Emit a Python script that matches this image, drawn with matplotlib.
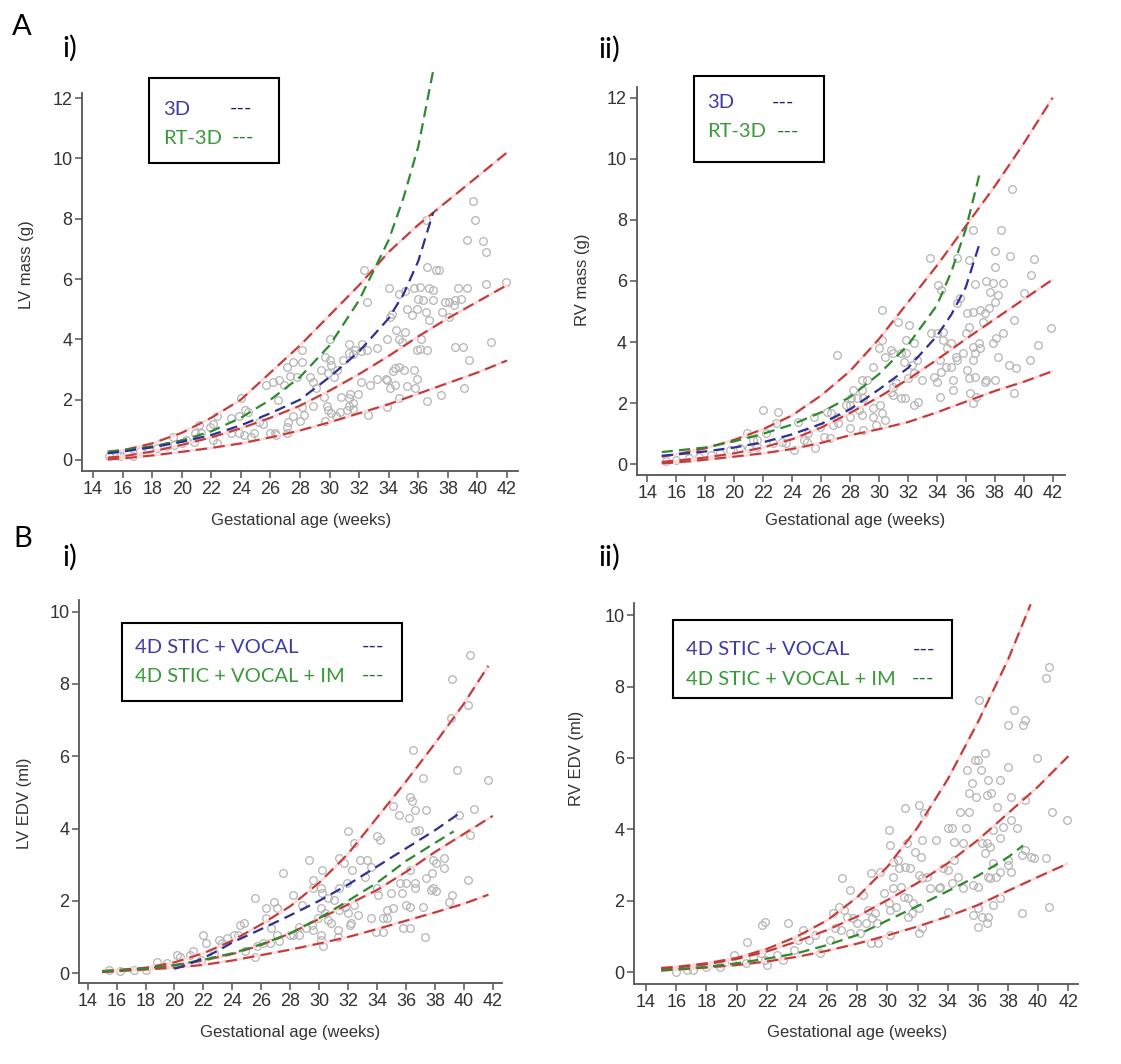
import matplotlib
matplotlib.use("Agg")
import matplotlib.pyplot as plt
from matplotlib.patches import Rectangle

# ---------------- data ----------------
weeks_even = [15, 16, 18, 20, 22, 24, 26, 28, 30, 32, 34, 36, 38, 40, 42]
x_ticks = [14, 16, 18, 20, 22, 24, 26, 28, 30, 32, 34, 36, 38, 40, 42]
yticks_mass = [0, 2, 4, 6, 8, 10, 12]
yticks_edv = [0, 2, 4, 6, 8, 10]

# A i) LV mass
ai_top = [0.25, 0.32, 0.55, 0.9, 1.4, 2.0, 2.9, 3.8, 4.8, 5.8, 6.9, 7.8, 8.6, 9.4, 10.2]
ai_mid = [0.08, 0.12, 0.28, 0.5, 0.75, 1.05, 1.4, 1.8, 2.3, 2.85, 3.45, 4.1, 4.7, 5.25, 5.8]
ai_low = [0.02, 0.05, 0.15, 0.27, 0.4, 0.55, 0.75, 0.98, 1.25, 1.55, 1.85, 2.2, 2.55, 2.9, 3.3]
ai_fit_weeks = [15, 16, 18, 20, 22, 24, 26, 28, 30, 32, 34, 35, 36, 37]
ai_3d = [0.22, 0.28, 0.42, 0.6, 0.83, 1.15, 1.55, 2.0, 2.75, 3.6, 4.7, 5.5, 6.6, 8.2]
ai_rt3d = [0.28, 0.33, 0.45, 0.65, 0.95, 1.4, 2.0, 2.75, 3.8, 5.3, 7.3, 8.7, 10.4, 12.9]
ai_pts = [(36.5, 7.96), (39.7, 8.6), (39.8, 7.95), (39.3, 7.3), (40.4, 7.25), (40.6, 6.9), (37.2, 6.3),
          (36.6, 6.4), (37.4, 6.3), (41.9, 5.9), (40.6, 5.85), (39.3, 5.7), (38.7, 5.7), (40.9, 3.9),
          (39.0, 3.75), (38.5, 3.75), (39.4, 3.3), (39.1, 2.4), (37.5, 2.15), (36.6, 1.95),
          (34.0, 5.7), (34.7, 5.5), (35.1, 5.6), (35.7, 5.7), (36.1, 5.75), (36.7, 5.7), (37.0, 5.65),
          (36.0, 5.35), (36.3, 5.3), (37.0, 5.3), (37.8, 5.25), (38.1, 5.25), (38.4, 5.15), (38.5, 5.3),
          (38.9, 5.35), (35.2, 5.0), (35.6, 4.8), (35.9, 5.0), (34.2, 4.85), (34.1, 4.75), (36.5, 4.9),
          (36.7, 4.65), (37.6, 4.9), (38.1, 4.75), (34.5, 4.3), (35.1, 4.25), (33.9, 4.0), (34.7, 4.0),
          (36.2, 4.0), (35.9, 3.65), (36.1, 3.67), (36.6, 3.65), (34.9, 3.9), (33.2, 3.7), (32.5, 3.65),
          (31.7, 3.65), (31.3, 3.55), (32.1, 3.6), (31.3, 3.85), (32.2, 3.85), (31.6, 3.5), (30.9, 3.3),
          (34.4, 3.05), (34.7, 3.1), (35.0, 3.0), (34.3, 2.95), (35.7, 3.0), (35.9, 2.7), (33.9, 2.65),
          (34.1, 2.4), (34.4, 2.5), (35.2, 2.45), (35.8, 2.4), (33.2, 2.7), (33.8, 2.7), (32.7, 2.5),
          (32.1, 2.6), (31.9, 2.2), (32.6, 1.5), (31.4, 2.2), (31.3, 2.05), (30.8, 2.1), (31.6, 1.9),
          (31.3, 1.8), (31.2, 1.65), (31.6, 1.7), (34.7, 2.05), (33.9, 1.75), (32.3, 6.3), (32.5, 5.25),
          (30.0, 4.0), (29.7, 3.4), (30.0, 3.3), (30.1, 3.15), (29.4, 3.0), (28.7, 2.75), (28.9, 2.6),
          (29.1, 2.4), (29.9, 2.9), (30.3, 2.75), (30.5, 3.0), (28.1, 3.65), (27.5, 3.25), (28.1, 3.25),
          (27.1, 3.1), (27.3, 2.8), (27.8, 2.75), (29.6, 2.1), (29.8, 1.8), (29.9, 1.65), (30.1, 1.55),
          (29.7, 1.3), (30.4, 1.45), (30.7, 1.6), (28.9, 1.8), (28.1, 1.75), (28.3, 1.5), (28.0, 1.3),
          (27.5, 1.45), (27.2, 1.25), (27.1, 1.1), (26.3, 0.9), (26.5, 2.0), (25.7, 2.5), (26.2, 2.6),
          (26.6, 2.65), (26.9, 2.5), (24.0, 2.05), (24.3, 1.65), (24.5, 1.6), (23.9, 1.45), (23.3, 1.38),
          (22.4, 1.45), (22.1, 1.2), (21.9, 1.1), (21.2, 1.15), (21.3, 0.9), (23.3, 0.9), (23.9, 0.9),
          (24.2, 0.83), (24.7, 0.77), (24.9, 0.9), (25.2, 1.27), (25.5, 1.2), (26.0, 0.9), (26.4, 0.83),
          (27.1, 0.88), (22.4, 0.55), (22.1, 0.66), (20.8, 0.6), (20.3, 0.66), (20.0, 0.55), (19.5, 0.5),
          (19.0, 0.45), (19.4, 0.77), (20.9, 0.9), (18.3, 0.4), (17.8, 0.35), (17.2, 0.3), (16.3, 0.25),
          (15.6, 0.18), (15.1, 0.12), (15.8, 0.12), (16.7, 0.12)]

# A ii) RV mass
aii_top = [0.25, 0.33, 0.52, 0.8, 1.15, 1.6, 2.25, 3.05, 4.1, 5.3, 6.5, 7.8, 9.1, 10.5, 12.0]
aii_mid = [0.08, 0.12, 0.22, 0.36, 0.55, 0.82, 1.2, 1.68, 2.2, 2.78, 3.42, 4.1, 4.75, 5.4, 6.05]
aii_low = [0.03, 0.06, 0.15, 0.25, 0.36, 0.5, 0.7, 0.95, 1.15, 1.38, 1.7, 2.05, 2.4, 2.7, 3.05]
aii_fit_weeks = [15, 16, 18, 20, 22, 24, 26, 28, 30, 32, 34, 35, 36, 37]
aii_3d = [0.28, 0.32, 0.42, 0.55, 0.72, 0.98, 1.32, 1.8, 2.45, 3.15, 4.2, 4.9, 5.8, 7.3]
aii_rt3d = [0.4, 0.45, 0.55, 0.75, 1.0, 1.3, 1.7, 2.2, 2.95, 3.9, 5.2, 6.3, 7.7, 9.6]
aii_pts = [(39.2, 9.0), (38.4, 7.67), (36.5, 7.67), (38.0, 6.99), (39.05, 6.82), (40.7, 6.71), (35.4, 6.76),
           (33.5, 6.76), (36.2, 6.69), (38.0, 6.47), (40.5, 6.19), (36.6, 5.9), (37.4, 6.0), (37.9, 5.92),
           (38.6, 5.92), (38.2, 5.54), (37.7, 5.65), (38.0, 5.32), (40.0, 5.6), (39.3, 4.72), (38.6, 4.29),
           (41.0, 3.9), (41.9, 4.45), (40.4, 3.41), (38.1, 4.12), (37.9, 3.96), (38.2, 3.52), (39.0, 3.25),
           (39.5, 3.14), (39.3, 2.32), (38.0, 2.76),
           (35.4, 5.27), (35.6, 5.43), (34.1, 5.87), (34.3, 5.7), (36.1, 4.94), (36.5, 5.0), (37.0, 5.05),
           (37.3, 4.94), (37.6, 5.1), (37.2, 4.67), (36.2, 4.5), (36.0, 4.29), (36.5, 3.85), (36.9, 3.96),
           (37.0, 3.8), (36.6, 3.63), (36.5, 3.41), (35.8, 3.63), (35.0, 3.96), (35.3, 3.52), (35.4, 3.41),
           (35.0, 3.2), (34.0, 4.29), (34.4, 4.34), (33.6, 4.29), (34.4, 4.07), (34.7, 3.8), (34.2, 3.41),
           (34.6, 3.2), (34.3, 3.03), (33.8, 2.87), (34.0, 2.7), (36.1, 3.09), (36.2, 2.81), (36.6, 2.87),
           (35.1, 2.76), (35.1, 2.43), (36.3, 2.32), (36.5, 2.0), (36.7, 2.21), (37.3, 2.7), (37.4, 2.76),
           (34.2, 2.21),
           (30.2, 5.05), (31.3, 4.67), (32.1, 4.56), (31.9, 4.07), (30.2, 4.07), (30.0, 3.8), (30.8, 3.74),
           (31.0, 3.63), (31.5, 3.63), (31.9, 3.63), (30.4, 3.52), (32.4, 3.96), (32.6, 3.41), (32.3, 3.25),
           (31.7, 3.36), (29.6, 3.2), (33.0, 2.76), (32.4, 2.98), (32.0, 2.81), (31.2, 2.65), (31.0, 2.54),
           (30.8, 2.38), (31.0, 2.27), (31.5, 2.16), (31.8, 2.16), (32.4, 1.94), (32.7, 2.05), (30.2, 1.67),
           (29.6, 1.83), (30.1, 1.94), (29.6, 1.56), (30.4, 1.45), (29.8, 1.29),
           (27.1, 3.58), (28.8, 2.76), (29.2, 2.76), (28.2, 2.43), (28.8, 2.43), (28.1, 2.16), (28.5, 2.16),
           (28.9, 2.16), (27.7, 1.94), (28.0, 1.94), (28.6, 1.78), (28.8, 1.61), (28.0, 1.56), (26.4, 1.72),
           (26.7, 1.67), (27.1, 1.56), (26.8, 1.29), (27.2, 1.34), (28.0, 1.18), (28.9, 1.12), (25.9, 1.23),
           (25.5, 1.56), (26.2, 0.9), (26.6, 0.85),
           (22.0, 1.78), (23.0, 1.72), (21.6, 0.8), (22.2, 1.01), (22.9, 1.34), (23.3, 0.74), (24.4, 1.4),
           (23.6, 0.69), (24.8, 0.8), (25.0, 0.74), (25.6, 0.52), (25.1, 1.01), (24.1, 0.47), (22.7, 0.69),
           (21.3, 0.8), (20.9, 1.01), (21.6, 0.58), (21.0, 0.52), (20.4, 0.52), (19.7, 0.47), (19.0, 0.36),
           (18.4, 0.31), (17.6, 0.25), (16.9, 0.2), (16.0, 0.14), (15.3, 0.11)]

# B i) LV EDV
bi_top_weeks = [15, 16, 18, 20, 22, 24, 26, 28, 30, 32, 34, 36, 38, 40, 41.7]
bi_top = [0.06, 0.09, 0.15, 0.3, 0.55, 0.9, 1.35, 1.85, 2.5, 3.3, 4.3, 5.3, 6.35, 7.45, 8.5]
bi_mid = [0.03, 0.05, 0.12, 0.22, 0.35, 0.53, 0.78, 1.1, 1.5, 1.9, 2.3, 2.8, 3.35, 3.85, 4.35]
bi_low = [0.04, 0.06, 0.1, 0.15, 0.23, 0.35, 0.5, 0.65, 0.82, 1.0, 1.22, 1.45, 1.68, 1.92, 2.17]
bi_stic_weeks = [20, 21, 22, 23, 24, 26, 28, 30, 32, 34, 36, 38, 39.8]
bi_stic = [0.12, 0.25, 0.42, 0.62, 0.85, 1.22, 1.6, 2.0, 2.45, 2.95, 3.45, 3.95, 4.45]
bi_im_weeks = [15, 16, 18, 20, 22, 24, 26, 28, 30, 32, 34, 36, 38, 39.3]
bi_im = [0.05, 0.07, 0.13, 0.22, 0.37, 0.55, 0.8, 1.1, 1.52, 2.0, 2.5, 3.1, 3.6, 3.92]
bi_pts = [(40.4, 8.8), (39.2, 8.14), (40.3, 7.42), (39.1, 7.05), (36.5, 6.18), (39.5, 5.62), (41.7, 5.35),
          (37.2, 5.39), (35.1, 4.61), (36.3, 4.88), (36.4, 4.75), (35.5, 4.38), (36.2, 4.29), (36.6, 4.52),
          (37.4, 4.52), (40.7, 4.53), (39.7, 4.38), (32.0, 3.92), (32.4, 3.59), (34.0, 3.78), (34.2, 3.69),
          (36.6, 3.92), (36.9, 3.96), (40.4, 3.82), (38.6, 3.18), (38.1, 3.04), (37.9, 3.13), (37.8, 2.76),
          (38.6, 2.9), (37.4, 2.63), (37.9, 2.35), (38.1, 2.26), (37.7, 2.3), (40.3, 2.58), (39.2, 2.17),
          (39.0, 1.98), (37.2, 1.84), (37.3, 1.01), (36.3, 1.84), (36.0, 1.89), (35.8, 1.24), (36.3, 1.24),
          (36.6, 2.49), (36.6, 2.35), (35.6, 2.49), (36.0, 2.49), (36.3, 2.86), (35.7, 2.21), (35.0, 2.21),
          (35.1, 1.8), (34.7, 1.75), (34.4, 1.52), (34.7, 1.52), (34.4, 1.15), (33.9, 1.15), (33.6, 1.52),
          (34.1, 2.17), (34.0, 2.35), (33.2, 2.67), (33.3, 3.13), (33.6, 2.95), (32.8, 3.13), (31.9, 2.49),
          (31.7, 3.04), (31.4, 3.18), (32.3, 2.86), (32.4, 1.89), (32.7, 1.61), (32.2, 1.38), (32.0, 1.66),
          (31.8, 1.84), (31.4, 1.75), (31.4, 2.35), (31.3, 1.2), (32.1, 1.34), (31.3, 1.01),
          (30.2, 2.86), (29.6, 2.58), (29.3, 3.13), (29.6, 2.35), (30.1, 2.35), (30.2, 2.21), (30.6, 2.07),
          (31.0, 2.03), (28.8, 1.89), (28.2, 2.17), (30.1, 1.8), (30.4, 1.66), (30.6, 1.47), (30.8, 1.38),
          (29.9, 1.52), (29.5, 1.34), (29.6, 1.2), (29.1, 1.24), (28.6, 1.29), (28.2, 1.06), (28.0, 1.06),
          (30.1, 0.92), (30.3, 0.74), (30.1, 1.06), (28.6, 1.06),
          (27.5, 2.76), (26.9, 1.98), (27.1, 1.8), (26.3, 1.8), (25.6, 2.07), (26.3, 1.52), (26.7, 1.24),
          (27.1, 1.06), (26.6, 0.83), (27.2, 0.88), (25.7, 0.74), (26.1, 0.83), (24.5, 1.34), (24.8, 1.38),
          (24.4, 1.06), (24.1, 1.06), (23.6, 0.97), (23.1, 0.92), (23.3, 0.83), (24.9, 0.6), (25.6, 0.46),
          (22.0, 1.06), (22.2, 0.83), (21.3, 0.6), (21.1, 0.51), (21.8, 0.37), (22.7, 0.55), (20.4, 0.46),
          (20.2, 0.51), (19.5, 0.28), (18.8, 0.32), (18.0, 0.09), (17.2, 0.09), (16.2, 0.05), (15.5, 0.09)]

# B ii) RV EDV
bii_top_weeks = [15, 16, 18, 20, 22, 24, 26, 28, 30, 32, 34, 36, 38, 39.5]
bii_top = [0.12, 0.15, 0.25, 0.4, 0.65, 1.0, 1.45, 2.1, 2.95, 4.05, 5.4, 7.0, 8.75, 10.3]
bii_mid = [0.1, 0.13, 0.22, 0.37, 0.58, 0.86, 1.18, 1.56, 2.02, 2.5, 3.05, 3.7, 4.45, 5.2, 6.05]
bii_low = [0.05, 0.07, 0.13, 0.2, 0.3, 0.43, 0.6, 0.8, 1.03, 1.28, 1.56, 1.88, 2.28, 2.67, 3.05]
bii_im_weeks = [15, 16, 18, 20, 22, 24, 26, 28, 30, 32, 34, 36, 38, 39]
bii_im = [0.05, 0.08, 0.15, 0.25, 0.38, 0.53, 0.76, 1.04, 1.45, 1.85, 2.27, 2.7, 3.22, 3.55]
bii_pts = [(40.7, 8.55), (40.5, 8.23), (36.1, 7.62), (38.4, 7.34), (38.0, 6.92), (39.1, 7.06), (39.0, 6.92),
           (39.9, 5.99), (36.5, 6.13), (35.8, 5.94), (36.0, 5.94), (38.0, 5.76), (35.3, 5.66), (36.2, 5.66),
           (35.6, 5.29), (36.7, 5.38), (37.5, 5.38), (35.4, 5.01), (35.9, 4.92), (36.6, 4.96), (36.9, 5.01),
           (38.2, 4.92), (39.1, 4.82), (40.9, 4.5), (41.9, 4.26), (34.8, 4.5), (35.4, 4.5), (37.3, 4.64),
           (38.2, 4.26), (38.6, 4.03), (37.0, 3.98), (37.5, 3.75), (37.7, 4.08), (34.0, 4.03), (34.3, 4.03),
           (35.2, 4.03), (34.4, 3.66), (35.0, 3.61), (36.3, 3.61), (36.5, 3.33), (36.6, 3.61), (36.8, 3.52),
           (37.0, 3.05), (36.8, 2.63), (37.2, 2.68), (37.5, 2.82), (38.0, 3.14), (38.0, 3.0), (38.2, 2.82),
           (38.9, 3.28), (39.1, 3.42), (39.5, 3.24), (39.7, 3.19), (40.5, 3.19), (40.7, 1.84), (38.9, 1.65),
           (37.5, 2.07), (36.7, 2.68), (37.0, 1.88), (35.7, 2.44), (36.0, 2.4), (36.0, 1.79), (35.7, 1.6),
           (36.3, 1.56), (36.0, 1.28), (36.6, 1.37), (36.7, 1.56),
           (30.1, 3.98), (30.2, 3.56), (31.2, 4.59), (32.1, 4.68), (32.4, 4.45), (31.3, 3.61), (32.3, 3.7),
           (33.2, 3.7), (31.8, 3.38), (32.2, 3.24), (30.4, 3.1), (30.7, 3.14), (30.8, 2.91), (31.2, 2.96),
           (31.5, 2.91), (30.4, 2.68), (29.5, 2.82), (32.1, 2.72), (32.3, 2.63), (32.6, 2.68), (32.8, 2.35),
           (33.4, 2.35), (33.7, 2.91), (34.0, 2.86), (34.4, 3.14), (34.7, 2.68), (35.0, 2.35), (34.3, 2.49),
           (33.5, 2.4), (30.9, 2.4), (30.4, 2.35), (29.8, 2.21), (30.1, 1.93), (30.2, 1.74), (30.6, 1.84),
           (31.1, 2.12), (31.4, 2.07), (31.7, 1.93), (32.1, 1.79), (31.6, 1.65), (32.1, 1.09), (32.3, 1.23),
           (31.4, 1.56), (34.0, 1.7), (30.2, 1.04), (29.4, 0.81), (28.9, 0.81),
           (28.9, 2.77), (28.4, 2.16), (27.5, 2.3), (27.0, 2.63), (26.8, 1.84), (26.4, 1.65), (27.1, 1.74),
           (27.3, 1.56), (27.7, 1.51), (28.0, 1.37), (28.7, 1.74), (29.2, 1.65), (29.0, 1.51), (29.3, 1.37),
           (28.6, 1.37), (28.2, 1.09), (27.5, 1.09), (26.9, 1.18), (26.5, 1.23), (26.2, 0.9), (25.5, 0.53),
           (24.8, 0.9), (25.2, 1.04), (24.4, 1.18), (24.1, 0.9), (23.8, 0.62), (23.4, 1.37), (21.9, 1.42),
           (21.7, 1.32), (20.7, 0.86), (19.8, 0.49), (19.7, 0.3), (20.6, 0.25), (21.1, 0.44), (21.6, 0.53),
           (21.9, 0.35), (22.0, 0.21), (22.7, 0.49), (23.1, 0.35), (18.9, 0.16), (18.0, 0.16), (17.1, 0.07),
           (16.0, 0.02), (16.7, 0.07)]

# ---------------- style ----------------
W, H = 1121, 1064
RED = "#c23a3a"
HALO = "#f9dcdc"
BLUE = "#2f2f96"
GREEN = "#2f8a2f"
LEG_BLUE = "#3c3ca8"
LEG_GREEN = "#3a9a3a"
AXC = "#555555"
TXT = "#333333"
SANS = ["Liberation Sans", "DejaVu Sans"]
LEGF = ["Lato", "DejaVu Sans"]

fig = plt.figure(figsize=(W / 100, H / 100), dpi=100)


def fx(x):
    return x / W


def fy(y):
    return 1 - y / H


def make_axes(l, r, t, b, xlim, ylim, yticks):
    ax = fig.add_axes([l / W, 1 - b / H, (r - l) / W, (b - t) / H])
    ax.set_xlim(*xlim)
    ax.set_ylim(*ylim)
    for s in ("top", "right"):
        ax.spines[s].set_visible(False)
    for s in ("left", "bottom"):
        ax.spines[s].set_color(AXC)
        ax.spines[s].set_linewidth(1.3)
    ax.set_xticks(x_ticks)
    ax.set_yticks(yticks)
    ax.tick_params(direction="out", length=5, width=1.1, colors=AXC, labelcolor=TXT,
                   labelsize=13, pad=2)
    for lab in ax.get_xticklabels() + ax.get_yticklabels():
        lab.set_family(SANS)
    ax.patch.set_alpha(0)
    return ax


def scatter(ax, pts):
    xs = [p[0] for p in pts]
    ys = [p[1] for p in pts]
    ax.plot(xs, ys, linestyle="none", marker="o", markersize=5.5, markerfacecolor="none",
            markeredgecolor="#b4b4b4", markeredgewidth=0.9, zorder=2)


def red_line(ax, x, y):
    ax.plot(x, y, color=HALO, lw=2.0, zorder=3, clip_on=False, solid_capstyle="butt")
    ln, = ax.plot(x, y, color=RED, lw=1.5, zorder=4, clip_on=False)
    ln.set_dashes((5.5, 3))


def fit_line(ax, x, y, c):
    ln, = ax.plot(x, y, color=c, lw=1.6, zorder=5, clip_on=False)
    ln.set_dashes((5, 2.8))


# A i
ax1 = make_axes(82, 518, 93, 471, (13.256, 42.74), (-0.365, 12.17), yticks_mass)
scatter(ax1, ai_pts)
red_line(ax1, weeks_even, ai_top)
red_line(ax1, weeks_even, ai_mid)
red_line(ax1, weeks_even, ai_low)
fit_line(ax1, ai_fit_weeks, ai_rt3d, GREEN)
fit_line(ax1, ai_fit_weeks, ai_3d, BLUE)

# A ii
ax2 = make_axes(636.7, 1065, 87.3, 475, (13.27, 42.85), (-0.35, 12.34), yticks_mass)
scatter(ax2, aii_pts)
red_line(ax2, weeks_even, aii_top)
red_line(ax2, weeks_even, aii_mid)
red_line(ax2, weeks_even, aii_low)
fit_line(ax2, aii_fit_weeks, aii_rt3d, GREEN)
fit_line(ax2, aii_fit_weeks, aii_3d, BLUE)

# B i
ax3 = make_axes(79, 501.7, 600, 983.3, (13.4, 42.62), (-0.28, 10.32), yticks_edv)
scatter(ax3, bi_pts)
red_line(ax3, bi_top_weeks, bi_top)
red_line(ax3, weeks_even, bi_mid)
red_line(ax3, bi_top_weeks, bi_low)
fit_line(ax3, bi_im_weeks, bi_im, GREEN)
fit_line(ax3, bi_stic_weeks, bi_stic, BLUE)

# B ii
ax4 = make_axes(634, 1078, 603.3, 984, (13.2, 42.64), (-0.33, 10.33), yticks_edv)
scatter(ax4, bii_pts)
red_line(ax4, bii_top_weeks, bii_top)
red_line(ax4, weeks_even, bii_mid)
red_line(ax4, weeks_even, bii_low)
fit_line(ax4, bii_im_weeks, bii_im, GREEN)

# axis labels
for (x, y) in [(301, 521), (855, 521), (290, 1033), (857, 1033)]:
    fig.text(fx(x), fy(y), "Gestational age (weeks)", ha="center", va="center",
             fontsize=12, color=TXT, family=SANS)
for (x, y, s) in [(27, 265, "LV mass (g)"), (583, 280, "RV mass (g)"),
                  (25, 803, "LV EDV (ml)"), (577, 758, "RV EDV (ml)")]:
    fig.text(fx(x), fy(y), s, ha="center", va="center", rotation=90,
             fontsize=12, color=TXT, family=SANS)

# panel labels
fig.text(fx(12), fy(35), "A", fontsize=21, family=LEGF, va="baseline", ha="left")
fig.text(fx(13), fy(547), "B", fontsize=21, family=LEGF, va="baseline", ha="left")
fig.text(fx(62), fy(48), "i)", fontsize=21, family=LEGF, va="center", ha="left")
fig.text(fx(598), fy(49), "ii)", fontsize=21, family=LEGF, va="center", ha="left")
fig.text(fx(62), fy(557), "i)", fontsize=21, family=LEGF, va="center", ha="left")
fig.text(fx(598), fy(557), "ii)", fontsize=21, family=LEGF, va="center", ha="left")


# legend boxes
def box(l, r, t, b):
    fig.add_artist(Rectangle((fx(l), fy(b)), (r - l) / W, (b - t) / H, transform=fig.transFigure,
                             fill=True, facecolor="white", edgecolor="black", lw=1.5, zorder=10))


def leg_text(x, y, s, c, **kw):
    fig.text(fx(x), fy(y), s, color=c, fontsize=14.5, family=LEGF, ha="left", zorder=11, **kw)


box(149, 279, 78, 163)
leg_text(163, 115, "3D", LEG_BLUE, va="baseline")
leg_text(230, 108, "---", "#222266", va="center")
leg_text(163, 144, "RT-3D", LEG_GREEN, va="baseline")
leg_text(232, 137, "---", "#2a7a2a", va="center")

box(694, 824, 76, 162)
leg_text(707, 108, "3D", LEG_BLUE, va="baseline")
leg_text(772, 102, "---", "#222266", va="center")
leg_text(707, 137, "RT-3D", LEG_GREEN, va="baseline")
leg_text(777, 131, "---", "#2a7a2a", va="center")

box(122, 402, 623, 701)
leg_text(135, 653, "4D STIC + VOCAL", LEG_BLUE, va="baseline")
leg_text(362, 646, "---", "#222266", va="center")
leg_text(135, 682, "4D STIC + VOCAL + IM", LEG_GREEN, va="baseline")
leg_text(362, 675, "---", "#2a7a2a", va="center")

box(673, 952, 620, 698)
leg_text(686, 655, "4D STIC + VOCAL", LEG_BLUE, va="baseline")
leg_text(913, 649, "---", "#222266", va="center")
leg_text(686, 685, "4D STIC + VOCAL + IM", LEG_GREEN, va="baseline")
leg_text(912, 678, "---", "#2a7a2a", va="center")

fig.savefig("out.png", dpi=100, facecolor="white")
